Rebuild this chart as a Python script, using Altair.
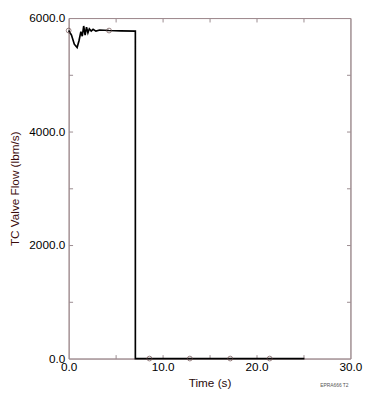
import altair as alt
import pandas as pd

# curve (time s, flow lbm/s)
t_vals = [0.0, 0.3, 0.6, 0.9, 1.1, 1.3, 1.45, 1.6, 1.75, 1.9, 2.05, 2.2, 2.4, 2.6, 2.9, 3.3, 4.3, 5.5, 7.1, 7.1, 10.0, 15.0, 20.0, 25.1]
f_vals = [5780, 5700, 5540, 5480, 5600, 5760, 5680, 5860, 5700, 5840, 5740, 5810, 5770, 5800, 5770, 5790, 5780, 5775, 5770, 0, 0, 0, 0, 0]

# marker positions
m_t = [0.0, 4.3, 8.6, 12.9, 17.2, 21.4]
m_f = [5780, 5780, 0, 0, 0, 0]

note_t = [29.8]
note_f = [0]
note_txt = ["EPRA666 T2"]

curve = pd.DataFrame({"t": t_vals, "f": f_vals})
marks = pd.DataFrame({"t": m_t, "f": m_f})
note = pd.DataFrame({"t": note_t, "f": note_f, "txt": note_txt})

FONT = "Liberation Sans"
xs = alt.Scale(domain=[0, 30], nice=False)
ys = alt.Scale(domain=[0, 6000], nice=False)
TICK = "#9a8a8e"
FRAME = "#a08c90"

line = alt.Chart(curve).mark_line(color="black", strokeWidth=1.7).encode(
    x=alt.X("t:Q", scale=xs, axis=alt.Axis(orient="bottom", title="Time (s)", values=[0, 10, 20, 30],
                                            format=".1f", ticks=False, domain=True, domainColor=FRAME,
                                            grid=False, labelFlush=False,
                                            labelFontSize=12, titleFontSize=12, titleFontWeight="normal",
                                            labelColor="black", titleColor="#2a0a0a", labelPadding=3,
                                            titlePadding=6, labelFont=FONT, titleFont=FONT)),
    y=alt.Y("f:Q", scale=ys, axis=alt.Axis(orient="left", title="TC Valve Flow (lbm/s)",
                                            values=[0, 2000, 4000, 6000], format=".1f", ticks=False,
                                            domain=True, domainColor=FRAME, grid=False, labelFlush=False,
                                            labelFontSize=12, titleFontSize=12,
                                            titleFontWeight="normal", labelColor="black",
                                            titleColor="#3a0a0a", labelPadding=4, titlePadding=8,
                                            labelFont=FONT, titleFont=FONT)),
)

pts = alt.Chart(marks).mark_point(shape="circle", filled=False, size=24, color="#6a4a4a", strokeWidth=1).encode(
    x=alt.X("t:Q", scale=xs, axis=alt.Axis(orient="bottom", title="", values=[5, 10, 15, 20, 25],
                                            labels=False, domain=False, grid=False, offset=-4,
                                            tickSize=4, tickColor=TICK)),
    y=alt.Y("f:Q", scale=ys, axis=alt.Axis(orient="left", title="", values=[1000, 2000, 3000, 4000, 5000],
                                            labels=False, domain=False, grid=False, offset=-4,
                                            tickSize=4, tickColor=TICK)),
)

txt = alt.Chart(note).mark_text(fontSize=5, color="#555555", align="right", dy=27, font=FONT).encode(
    x=alt.X("t:Q", scale=xs, axis=alt.Axis(orient="top", title="", values=[5, 10, 15, 20, 25],
                                            labels=False, domain=False, grid=False, offset=-4,
                                            tickSize=4, tickColor=TICK)),
    y=alt.Y("f:Q", scale=ys, axis=alt.Axis(orient="right", title="", values=[1000, 2000, 3000, 4000, 5000],
                                            labels=False, domain=False, grid=False, offset=-4,
                                            tickSize=4, tickColor=TICK)),
    text="txt:N",
)

frame = alt.Chart(note).mark_point(opacity=0).encode(
    x=alt.X("t:Q", scale=xs, axis=alt.Axis(orient="top", title="", labels=False, ticks=False,
                                            domain=True, domainColor=FRAME, grid=False)),
    y=alt.Y("f:Q", scale=ys, axis=alt.Axis(orient="right", title="", labels=False, ticks=False,
                                            domain=True, domainColor=FRAME, grid=False)),
)

chart = alt.layer(line, pts, txt, frame).resolve_axis(x="independent", y="independent").properties(
    width=288, height=348,
    autosize=alt.AutoSizeParams(type="none"),
    padding={"left": 62, "top": 6, "right": 21, "bottom": 34},
    background="white",
).configure_view(stroke=FRAME, strokeWidth=1)

chart.save("out.html", embed_options={"renderer": "svg", "actions": False})
